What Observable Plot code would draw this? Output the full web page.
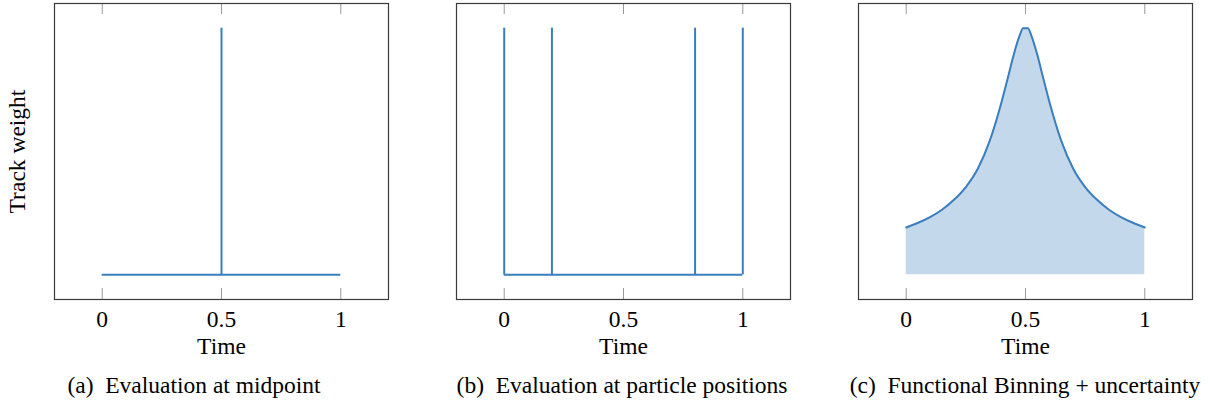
<!DOCTYPE html>
<html>
<head>
<meta charset="utf-8">
<script src="https://cdn.jsdelivr.net/npm/d3@7"></script>
<script src="https://cdn.jsdelivr.net/npm/@observablehq/plot@0.6"></script>
<style>
  html, body { margin: 0; padding: 0; background: #fff; }
  #root { position: relative; width: 1210px; height: 404px; overflow: hidden; font-family: "Liberation Serif", "DejaVu Serif", serif; }
  .panel { position: absolute; top: 0; }
  .caption { position: absolute; top: 373.5px; font-size: 23.5px; line-height: 1; white-space: nowrap; text-align: center; color: #000; transform: translateX(-50%); }
</style>
</head>
<body>
<div id="root"></div>
<script>
// ---- data ----
const xTicks = [0, 0.5, 1];
const timeRange = [0, 1];                 // evaluated time interval
const yLabel = "Track weight";
const xLabel = "Time";
const captions = [
  "(a)\u2002Evaluation at midpoint",
  "(b)\u2002Evaluation at particle positions",
  "(c)\u2002Functional Binning + uncertainty"
];
// (a) single evaluation at midpoint
const midpointTimes = [0.5];
const midpointWeights = [1];
// (b) evaluation at particle positions
const particleTimes = [0, 0.2, 0.8, 1];
const particleWeights = [1, 1, 1, 1];
// (c) functional binning curve
const curveTimes   = [0, 0.05, 0.1, 0.15, 0.2, 0.25, 0.3, 0.35, 0.4, 0.425, 0.45, 0.475, 0.49, 0.51, 0.525, 0.55, 0.575, 0.6, 0.65, 0.7, 0.75, 0.8, 0.85, 0.9, 0.95, 1];
const curveWeights = [0.192, 0.211, 0.234, 0.264, 0.304, 0.356, 0.430, 0.543, 0.702, 0.795, 0.890, 0.969, 1.0, 1.0, 0.969, 0.890, 0.795, 0.702, 0.543, 0.430, 0.356, 0.304, 0.264, 0.234, 0.211, 0.192];

// ---- styles ----
const FONT = "Liberation Serif";
const FS = 23.5;
const LINE = "#3b7ebf";
const FILL = "#c3d8ea";
const W = 400, H = 362;
const M = {top: 3, right: 12, bottom: 63, left: 54};
const frameH = H - M.top - M.bottom;
const tickLen = 11;

function commonMarks() {
  return [
    Plot.ruleX(xTicks, {x: d => d, insetTop: frameH - tickLen, stroke: "#9a9a9a", strokeWidth: 1}),
    Plot.ruleX(xTicks, {x: d => d, insetBottom: frameH - tickLen, stroke: "#9a9a9a", strokeWidth: 1}),
    Plot.axisX({ticks: xTicks, tickSize: 0, tickPadding: 11, fontSize: FS, fill: "#000", label: null, tickFormat: d => String(d)}),
    Plot.text([xLabel], {frameAnchor: "bottom", lineAnchor: "top", dy: 38, fontSize: FS, fill: "#000"}),
    Plot.frame({stroke: "#3a3a3a", strokeWidth: 1.2})
  ];
}

function makePlot(marks) {
  return Plot.plot({
    width: W, height: H,
    marginTop: M.top, marginRight: M.right, marginBottom: M.bottom, marginLeft: M.left,
    style: {fontFamily: FONT, fontSize: FS + "px", background: "transparent", overflow: "visible", color: "#000"},
    x: {domain: [-0.2, 1.2]},
    y: {domain: [-0.1, 1.1], axis: null},
    marks: [...marks, ...commonMarks()]
  });
}

const midData = midpointTimes.map((t, i) => ({t, w: midpointWeights[i]}));
const partData = particleTimes.map((t, i) => ({t, w: particleWeights[i]}));
const curveData = curveTimes.map((t, i) => ({t, w: curveWeights[i]}));

const plotA = makePlot([
  Plot.ruleY([0], {x1: timeRange[0], x2: timeRange[1], stroke: LINE, strokeWidth: 2}),
  Plot.ruleX(midData, {x: "t", y1: 0, y2: "w", stroke: LINE, strokeWidth: 2}),
  Plot.text([yLabel], {frameAnchor: "left", textAnchor: "middle", rotate: -90, dx: -37.5, fontSize: FS, fill: "#000"})
]);
const plotB = makePlot([
  Plot.ruleY([0], {x1: timeRange[0], x2: timeRange[1], stroke: LINE, strokeWidth: 2}),
  Plot.ruleX(partData, {x: "t", y1: 0, y2: "w", stroke: LINE, strokeWidth: 2})
]);
const plotC = makePlot([
  Plot.areaY(curveData, {x: "t", y1: 0, y2: "w", fill: FILL, curve: "monotone-x"}),
  Plot.lineY(curveData, {x: "t", y: "w", stroke: LINE, strokeWidth: 2, curve: "monotone-x"})
]);

const root = document.getElementById("root");
const lefts = [0, 402, 804];
const captionCenters = [194, 622, 1025];
[plotA, plotB, plotC].forEach((p, i) => {
  const d = document.createElement("div");
  d.className = "panel";
  d.style.left = lefts[i] + "px";
  d.appendChild(p);
  root.appendChild(d);
  const c = document.createElement("div");
  c.className = "caption";
  c.style.left = captionCenters[i] + "px";
  c.textContent = captions[i];
  root.appendChild(c);
});
</script>
</body>
</html>
